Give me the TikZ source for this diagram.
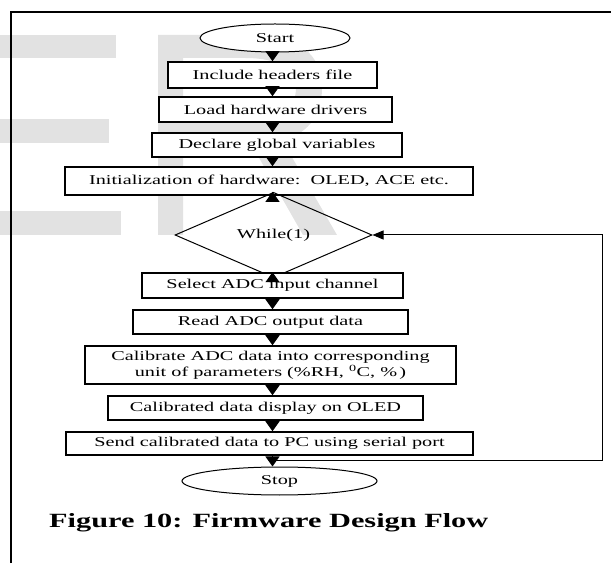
\documentclass[tikz,border=0pt]{standalone}
\usepackage{fontspec}
\setmainfont{Liberation Serif}[FakeStretch=1.5]
\usetikzlibrary{shapes.geometric,arrows.meta}
\definecolor{wm}{RGB}{226,226,226}
\newcommand{\boxfont}{\fontsize{13.5}{16}\selectfont}
\begin{document}
\begin{tikzpicture}[x=1pt,y=1pt,
  box/.style={draw,fill=white,line width=1.5pt,inner sep=0pt,align=center,font=\boxfont},
  term/.style={ellipse,draw,fill=white,line width=1pt,inner sep=0pt,font=\boxfont},
  dec/.style={diamond,draw,line width=1pt,inner sep=0pt,font=\boxfont},
  arr/.style={line width=1pt,-{Triangle[width=14pt,length=10pt]}},
  looparr/.style={line width=1pt,-{Triangle[width=9pt,length=11pt]}},
  frame/.style={line width=1.2pt}
]
\useasboundingbox (0,0) rectangle (611,563);
% watermark
\fill[wm] (0,505) rectangle (116,528);
\fill[wm] (0,420) rectangle (109,444);
\fill[wm] (0,328) rectangle (121,352);
\fill[wm,even odd rule]
  (158,528) -- (250,528) .. controls (300,528) and (322,508) .. (322,475)
  .. controls (322,445) and (305,428) .. (282,423) -- (337,328) -- (303,328)
  -- (250,421) -- (183,421) -- (183,328) -- (158,328) -- cycle
  (183,505) -- (245,505) .. controls (280,505) and (296,493) .. (296,475)
  .. controls (296,455) and (280,445) .. (245,445) -- (183,445) -- cycle;
% frame
\coordinate (f1) at (11,0);
\coordinate (f2) at (11,551);
\coordinate (f3) at (611,551);
\draw[frame] (f1) -- (f2) -- (f3);
% nodes
\node[term,minimum width=150pt,minimum height=28pt] (start) at (275,525) {Start};
\node[box,minimum width=209pt,minimum height=26pt] (b1) at (272.5,488) {Include headers file};
\node[box,minimum width=233pt,minimum height=25pt] (b2) at (275.5,453.5) {Load hardware drivers};
\node[box,minimum width=250pt,minimum height=24pt] (b3) at (277,418) {Declare global variables};
\node[box,minimum width=408pt,minimum height=28pt] (b4) at (269,382) {Initialization of hardware:\ \ OLED, ACE etc.};
\node[dec,minimum width=197pt,minimum height=54pt] (wh) at (273.5,328) {While(1)};
\node[box,minimum width=261pt,minimum height=25pt] (b5) at (272.5,277.5) {Select ADC input channel};
\node[box,minimum width=275pt,minimum height=24pt] (b6) at (270.5,241) {Read ADC output data};
\node[box,minimum width=371pt,minimum height=38pt] (b7) at (270.5,198) {Calibrate ADC data into corresponding\\unit of parameters (\%RH, \textsuperscript{0}C, \%\,)};
\node[box,minimum width=315pt,minimum height=24pt] (b8) at (265.5,155) {Calibrated data display on OLED};
\node[box,minimum width=407pt,minimum height=23pt] (b9) at (269.5,119.5) {Send calibrated data to PC using serial port};
\node[term,minimum width=195pt,minimum height=28pt] (stop) at (279.5,82) {Stop};
\node[anchor=base west,inner sep=0pt,font=\fontsize{20.2}{24}\selectfont\bfseries] (cap) at (49,36) {Figure 10: Firmware Design Flow};
% connectors
\coordinate (ax) at (272.5,0);
\draw[arr] (start.south -| ax) -- (b1.north -| ax);
\draw[arr] (b1.south -| ax) -- (b2.north -| ax);
\draw[arr] (b2.south -| ax) -- (b3.north -| ax);
\draw[arr] (b3.south -| ax) -- (b4.north -| ax);
\draw[arr] (b4.south -| ax) -- (wh.north -| ax);
\draw[arr] (wh.south -| ax) -- (b5.north -| ax);
\draw[arr] (b5.south -| ax) -- (b6.north -| ax);
\draw[arr] (b6.south -| ax) -- (b7.north -| ax);
\draw[arr] (b7.south -| ax) -- (b8.north -| ax);
\draw[arr] (b8.south -| ax) -- (b9.north -| ax);
\draw[arr] (b9.south -| ax) -- (stop.north -| ax);
\coordinate (j) at (272.5,103);
\coordinate (rc) at (602,103);
\draw[looparr] (j) -- (rc) |- (wh.east);
\end{tikzpicture}
\end{document}
